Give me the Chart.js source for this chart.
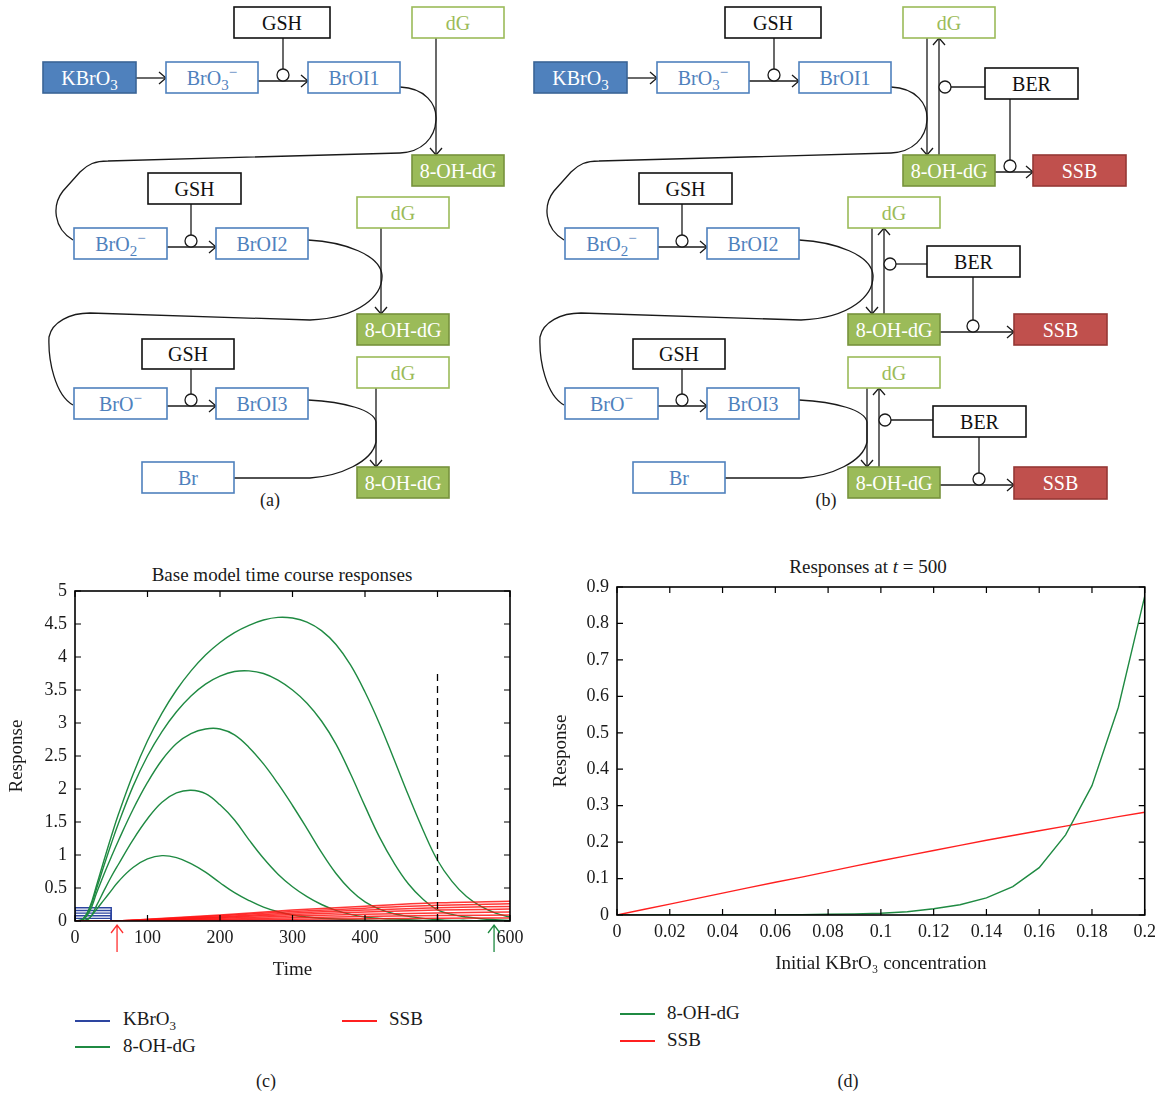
<!DOCTYPE html>
<html>
<head>
<meta charset="utf-8">
<script src="https://cdn.jsdelivr.net/npm/chart.js@4.4.1/dist/chart.umd.min.js"></script>
<style>
  body { margin: 0; width: 1162px; height: 1094px; position: relative; background: #fff; overflow: hidden;
         font-family: 'Liberation Serif', 'Times New Roman', serif; color: #1a1a1a; }
  .abs { position: absolute; white-space: nowrap; }
  .ttl { font-size: 19px; text-align: center; width: 400px; line-height: 22px; }
  .cap { font-size: 18px; text-align: center; width: 60px; line-height: 22px; }
  .legtxt { font-size: 19px; line-height: 22px; }
  .legln { height: 1.6px; width: 35px; }
  sub { font-size: 13px; line-height: 0; }
  #diagram text { font-family: 'Liberation Serif', 'Times New Roman', serif; }
</style>
</head>
<body>

<svg id="diagram" class="abs" style="left:0;top:0" width="1162" height="520"></svg>
<div class="abs cap" style="left:240px;top:489px">(a)</div>
<div class="abs cap" style="left:796px;top:489px">(b)</div>

<div class="abs ttl" style="left:82px;top:564px">Base model time course responses</div>
<div class="abs" style="left:0;top:555px;width:540px;height:440px"><canvas id="chartC"></canvas></div>
<div class="abs legln" style="left:75px;top:1020px;background:#2d45a0"></div>
<div class="abs legtxt" style="left:123px;top:1008px">KBrO<sub>3</sub></div>
<div class="abs legln" style="left:75px;top:1046px;background:#1f8a42"></div>
<div class="abs legtxt" style="left:123px;top:1035px">8-OH-dG</div>
<div class="abs legln" style="left:342px;top:1020px;background:#ff2020"></div>
<div class="abs legtxt" style="left:389px;top:1008px">SSB</div>
<div class="abs cap" style="left:236px;top:1070px">(c)</div>

<div class="abs ttl" style="left:668px;top:556px">Responses at <i>t</i> = 500</div>
<div class="abs" style="left:550px;top:555px;width:612px;height:440px"><canvas id="chartD"></canvas></div>
<div class="abs legln" style="left:620px;top:1013px;background:#1f8a42"></div>
<div class="abs legtxt" style="left:667px;top:1002px">8-OH-dG</div>
<div class="abs legln" style="left:620px;top:1040px;background:#ff2020"></div>
<div class="abs legtxt" style="left:667px;top:1029px">SSB</div>
<div class="abs cap" style="left:818px;top:1070px">(d)</div>

<script>
// ============================================================
// DATA
// ============================================================
// (c) time course
const timeGrid = [0,10,20,30,40,50,60,80,100,120,140,160,180,200,220,240,260,280,300,320,340,360,380,400,420,440,460,480,500,520,540,560,580,600];
const ohdgA = [0,0.02,0.2,0.55,0.92,1.28,1.62,2.22,2.73,3.15,3.5,3.79,4.03,4.22,4.37,4.48,4.56,4.6,4.59,4.53,4.4,4.19,3.88,3.47,2.99,2.45,1.9,1.38,0.92,0.6,0.37,0.22,0.12,0.06];
const ohdgB = [0,0.02,0.18,0.5,0.84,1.17,1.48,2.04,2.5,2.87,3.17,3.41,3.59,3.71,3.78,3.79,3.75,3.65,3.5,3.3,3.03,2.68,2.23,1.74,1.27,0.88,0.56,0.33,0.17,0.1,0.06,0.035,0.02,0.01];
const ohdgC = [0,0.01,0.14,0.43,0.71,0.97,1.22,1.69,2.1,2.44,2.69,2.84,2.91,2.91,2.82,2.63,2.38,2.08,1.75,1.4,1.04,0.72,0.47,0.29,0.18,0.11,0.07,0.04,0.02,0.01,0.01,0,0,0];
const ohdgD = [0,0,0.04,0.24,0.46,0.67,0.86,1.23,1.55,1.8,1.94,1.98,1.93,1.76,1.53,1.23,0.95,0.71,0.52,0.37,0.25,0.16,0.1,0.06,0.04,0.03,0.02,0.01,0.01,0,0,0,0,0];
const ohdgE = [0,0,0.05,0.18,0.32,0.46,0.6,0.81,0.94,0.99,0.96,0.87,0.74,0.58,0.43,0.31,0.21,0.14,0.09,0.06,0.04,0.03,0.02,0.015,0.01,0.01,0,0,0,0,0,0,0,0];
const ohdgSeries = [ohdgA, ohdgB, ohdgC, ohdgD, ohdgE];

const kbro3Times = [0,0,50,50,600];
const kbro3Pulses = [
  [0,0.2,0.2,0,0],
  [0,0.16,0.16,0,0],
  [0,0.12,0.12,0,0],
  [0,0.08,0.08,0,0],
  [0,0.04,0.04,0,0]
];

const ssbTimes = [0,50,100,200,300,400,500,600];
const ssbSeries = [
  [0,0,0.025,0.09,0.165,0.225,0.275,0.3],
  [0,0,0.022,0.078,0.143,0.195,0.238,0.26],
  [0,0,0.018,0.066,0.121,0.165,0.201,0.22],
  [0,0,0.015,0.054,0.099,0.135,0.165,0.18],
  [0,0,0.011,0.04,0.074,0.101,0.123,0.135],
  [0,0,0.0075,0.027,0.05,0.068,0.083,0.09],
  [0,0,0.004,0.014,0.025,0.034,0.041,0.045]
];
const sampleTime = 500;
const sampleLineTop = 3.75;
const arrowTimes = [58, 578];
const arrowColors = ['#ff3030', '#1f8a42'];

// (d) responses at t = 500
const concentrations = [0,0.01,0.02,0.03,0.04,0.05,0.06,0.07,0.08,0.09,0.1,0.11,0.12,0.13,0.14,0.15,0.16,0.17,0.18,0.19,0.2];
const ohdgAt500 = [0,0,0,0,0,0,0,0.001,0.002,0.003,0.005,0.009,0.017,0.028,0.047,0.078,0.13,0.22,0.355,0.57,0.875];
const ssbAt500 = [0,0.015,0.03,0.045,0.06,0.075,0.09,0.104,0.119,0.134,0.149,0.163,0.177,0.191,0.205,0.218,0.231,0.244,0.257,0.27,0.282];

// ============================================================
// DIAGRAMS (a) and (b)
// ============================================================
const boxStyles = {
  kb:    { fill: '#4f81bd', stroke: '#3a6496', color: '#fff' },
  blue:  { fill: '#fff', stroke: '#4f81bd', color: '#4f81bd' },
  black: { fill: '#fff', stroke: '#111', color: '#111' },
  dg:    { fill: '#fff', stroke: '#9bbb59', color: '#9bbb59' },
  oh:    { fill: '#9bbb59', stroke: '#77933c', color: '#fff' },
  ssb:   { fill: '#c0504d', stroke: '#953735', color: '#fff' }
};
const SUB3 = '<tspan dy="5" font-size="15">3</tspan>';
const commonBoxes = [
  [234,7,96,31,'black','GSH'], [412,7,92,31,'dg','dG'],
  [43,62,93,31,'kb','KBrO' + SUB3], [166,62,92,31,'blue','BrO' + SUB3 + '<tspan dy="-13" font-size="15">\u2212</tspan>'],
  [308,62,92,31,'blue','BrOI1'], [412,155,92,31,'oh','8-OH-dG'],
  [148,173,93,31,'black','GSH'], [74,228,93,31,'blue','BrO<tspan dy="5" font-size="15">2</tspan><tspan dy="-13" font-size="15">\u2212</tspan>'],
  [216,228,92,31,'blue','BrOI2'], [357,197,92,31,'dg','dG'], [357,314,92,31,'oh','8-OH-dG'],
  [142,339,92,30,'black','GSH'], [74,388,93,31,'blue','BrO<tspan dy="-8" font-size="15">\u2212</tspan>'],
  [216,388,92,31,'blue','BrOI3'], [357,357,92,31,'dg','dG'], [357,467,92,31,'oh','8-OH-dG'],
  [142,462,92,31,'blue','Br']
];
const berBoxes = [
  [494,68,93,31,'black','BER'], [542,155,93,31,'ssb','SSB'],
  [436,246,93,31,'black','BER'], [523,314,93,31,'ssb','SSB'],
  [442,406,93,31,'black','BER'], [523,467,93,32,'ssb','SSB']
];
const curvePaths = [
  'M400,87 C425,88 437,104 436,120 C435,138 422,152 400,153 L108,161 C95,161 88,164 80,172 L63,191 C52,205 53,228 73,240',
  'M308,240 C345,242 380,255 382,275 C383,295 360,318 310,320 L90,313 C70,313 52,322 49,337 C48,360 55,395 73,405',
  'M308,400 C345,402 374,410 376,422 L376,442 C372,462 340,476 310,478 L234,478'
];

const LINE = 'stroke="#1a1a1a" stroke-width="1.3" fill="none"';
const line = (x1, y1, x2, y2) => `<path d="M${x1},${y1} L${x2},${y2}" ${LINE}/>`;
const headR = (x, y) => `<path d="M${x-7},${y-6} L${x},${y} L${x-7},${y+6}" ${LINE}/>`;
const headD = (x, y) => `<path d="M${x-6},${y-7} L${x},${y} L${x+6},${y-7}" ${LINE}/>`;
const headU = (x, y) => `<path d="M${x-6},${y+7} L${x},${y} L${x+6},${y+7}" ${LINE}/>`;
const circ = (x, y) => `<circle cx="${x}" cy="${y}" r="6" fill="#fff" stroke="#1a1a1a" stroke-width="1.3"/>`;
function box([x, y, w, h, kind, label]) {
  const s = boxStyles[kind];
  return `<rect x="${x}" y="${y}" width="${w}" height="${h}" fill="${s.fill}" stroke="${s.stroke}" stroke-width="1.6"/>` +
    `<text x="${x + w / 2}" y="${y + h / 2 + 7}" text-anchor="middle" font-size="20" fill="${s.color}">${label}</text>`;
}

function diagram(withRepair) {
  let s = curvePaths.map(d => `<path d="${d}" ${LINE}/>`).join('');
  // activation chain
  s += line(136,78,166,78) + headR(166,78);
  s += line(258,81,308,81) + headR(308,81) + line(283,38,283,69) + circ(283,75);
  s += line(167,247,216,247) + headR(216,247) + line(191,204,191,235) + circ(191,241);
  s += line(167,406,216,406) + headR(216,406) + line(191,369,191,394) + circ(191,400);
  // dG -> 8-OH-dG
  s += line(436,38,436,155) + headD(436,155);
  s += line(381,228,381,314) + headD(381,314);
  s += line(376,388,376,467) + headD(376,467);
  if (withRepair) {
    s += line(448,155,448,38) + headU(448,38) + line(460,87,494,87) + circ(454,87);
    s += line(519,99,519,160) + line(504,172,542,172) + headR(542,172) + circ(519,166);
    s += line(393,314,393,228) + headU(393,228) + line(405,264,436,264) + circ(399,264);
    s += line(482,277,482,320) + line(449,332,523,332) + headR(523,332) + circ(482,326);
    s += line(388,467,388,388) + headU(388,388) + line(400,420,442,420) + circ(394,420);
    s += line(488,437,488,473) + line(449,485,523,485) + headR(523,485) + circ(488,479);
    s += berBoxes.map(box).join('');
  }
  s += commonBoxes.map(box).join('');
  return s;
}
document.getElementById('diagram').innerHTML =
  `<g>${diagram(false)}</g><g transform="translate(491,0)">${diagram(true)}</g>`;

// ============================================================
// CHARTS (c) and (d)
// ============================================================
const SERIF = "'Liberation Serif', 'Times New Roman', serif";
const INK = '#1a1a1a';
const GREEN = '#1f8a42';
const plainNum = v => String(Number(v.toFixed(2)));

// MATLAB-style box with inward ticks on all four sides
const boxFrame = {
  id: 'boxFrame',
  afterDatasetsDraw(chart) {
    const { ctx, chartArea: a, scales: { x, y } } = chart;
    ctx.save();
    ctx.strokeStyle = '#000';
    ctx.lineWidth = 1.6;
    ctx.strokeRect(a.left, a.top, a.right - a.left, a.bottom - a.top);
    ctx.lineWidth = 1.2;
    ctx.beginPath();
    x.ticks.forEach(t => {
      const px = x.getPixelForValue(t.value);
      ctx.moveTo(px, a.bottom); ctx.lineTo(px, a.bottom - 6);
      ctx.moveTo(px, a.top); ctx.lineTo(px, a.top + 6);
    });
    y.ticks.forEach(t => {
      const py = y.getPixelForValue(t.value);
      ctx.moveTo(a.left, py); ctx.lineTo(a.left + 6, py);
      ctx.moveTo(a.right, py); ctx.lineTo(a.right - 6, py);
    });
    ctx.stroke();
    ctx.restore();
  }
};

// dose / sample marker arrows under the time axis
const timeArrows = {
  id: 'timeArrows',
  afterDraw(chart) {
    const { ctx, chartArea: a, scales: { x } } = chart;
    ctx.save();
    ctx.lineWidth = 1.3;
    arrowTimes.forEach((t, i) => {
      const px = x.getPixelForValue(t);
      const top = a.bottom + 4;
      ctx.strokeStyle = arrowColors[i];
      ctx.beginPath();
      ctx.moveTo(px, top); ctx.lineTo(px, top + 27);
      ctx.moveTo(px - 6, top + 8); ctx.lineTo(px, top); ctx.lineTo(px + 6, top + 8);
      ctx.stroke();
    });
    ctx.restore();
  }
};

const tickFont = { family: SERIF, size: 18 };
const titleFont = { family: SERIF, size: 19 };
const pts = (xs, ys) => xs.map((v, i) => ({ x: v, y: ys[i] }));

const datasetsC = [];
kbro3Pulses.forEach(p => datasetsC.push({
  data: pts(kbro3Times, p), borderColor: '#2d45a0', borderWidth: 1.4, order: 3
}));
ohdgSeries.forEach(s => datasetsC.push({
  data: pts(timeGrid, s), borderColor: GREEN, borderWidth: 1.4, tension: 0.4, order: 2
}));
ssbSeries.forEach(s => datasetsC.push({
  data: pts(ssbTimes, s), borderColor: 'rgba(255,20,20,0.85)', borderWidth: 1.5, cubicInterpolationMode: 'monotone', order: 1
}));
datasetsC.push({
  data: [{ x: sampleTime, y: 0 }, { x: sampleTime, y: sampleLineTop }],
  borderColor: '#000', borderWidth: 1.3, borderDash: [7, 5], order: 0
});

new Chart(document.getElementById('chartC'), {
  type: 'scatter',
  data: { datasets: datasetsC },
  plugins: [boxFrame, timeArrows],
  options: {
    responsive: true, maintainAspectRatio: false, animation: false,
    showLine: true,
    elements: { point: { radius: 0 } },
    layout: { padding: { top: 36, right: 30, left: 0, bottom: 0 } },
    plugins: { legend: { display: false }, tooltip: { enabled: false } },
    scales: {
      x: {
        type: 'linear', min: 0, max: 600,
        ticks: { stepSize: 100, color: INK, font: tickFont, padding: 6, maxRotation: 0, autoSkip: false, callback: plainNum },
        grid: { display: false, drawTicks: false }, border: { display: false },
        title: { display: true, text: 'Time', color: INK, font: titleFont, padding: { top: 0, bottom: 14 } },
        afterFit: s => { s.height = 74; }
      },
      y: {
        min: 0, max: 5,
        ticks: { stepSize: 0.5, color: INK, font: tickFont, padding: 8, callback: plainNum },
        grid: { display: false, drawTicks: false }, border: { display: false },
        title: { display: true, text: 'Response', color: INK, font: titleFont, padding: { top: 6, bottom: 0 } },
        afterFit: s => { s.width = 75; }
      }
    }
  }
});

new Chart(document.getElementById('chartD'), {
  type: 'scatter',
  data: {
    datasets: [
      { label: '8-OH-dG', data: pts(concentrations, ohdgAt500), borderColor: GREEN, borderWidth: 1.4 },
      { label: 'SSB', data: pts(concentrations, ssbAt500), borderColor: '#ff2020', borderWidth: 1.4 }
    ]
  },
  plugins: [boxFrame],
  options: {
    responsive: true, maintainAspectRatio: false, animation: false,
    showLine: true,
    elements: { point: { radius: 0 } },
    layout: { padding: { top: 32, right: 14, left: 0, bottom: 0 } },
    plugins: { legend: { display: false }, tooltip: { enabled: false } },
    scales: {
      x: {
        type: 'linear', min: 0, max: 0.2,
        ticks: { stepSize: 0.02, color: INK, font: tickFont, padding: 6, maxRotation: 0, autoSkip: false, callback: plainNum },
        grid: { display: false, drawTicks: false }, border: { display: false },
        title: { display: true, text: 'Initial KBrO\u2083 concentration', color: INK, font: titleFont, padding: { top: 0, bottom: 20 } },
        afterFit: s => { s.height = 80; }
      },
      y: {
        min: 0, max: 0.9,
        ticks: { stepSize: 0.1, color: INK, font: tickFont, padding: 8, callback: plainNum },
        grid: { display: false, drawTicks: false }, border: { display: false },
        title: { display: true, text: 'Response', color: INK, font: titleFont, padding: { top: 0, bottom: 0 } },
        afterFit: s => { s.width = 67; }
      }
    }
  }
});
</script>
</body>
</html>
